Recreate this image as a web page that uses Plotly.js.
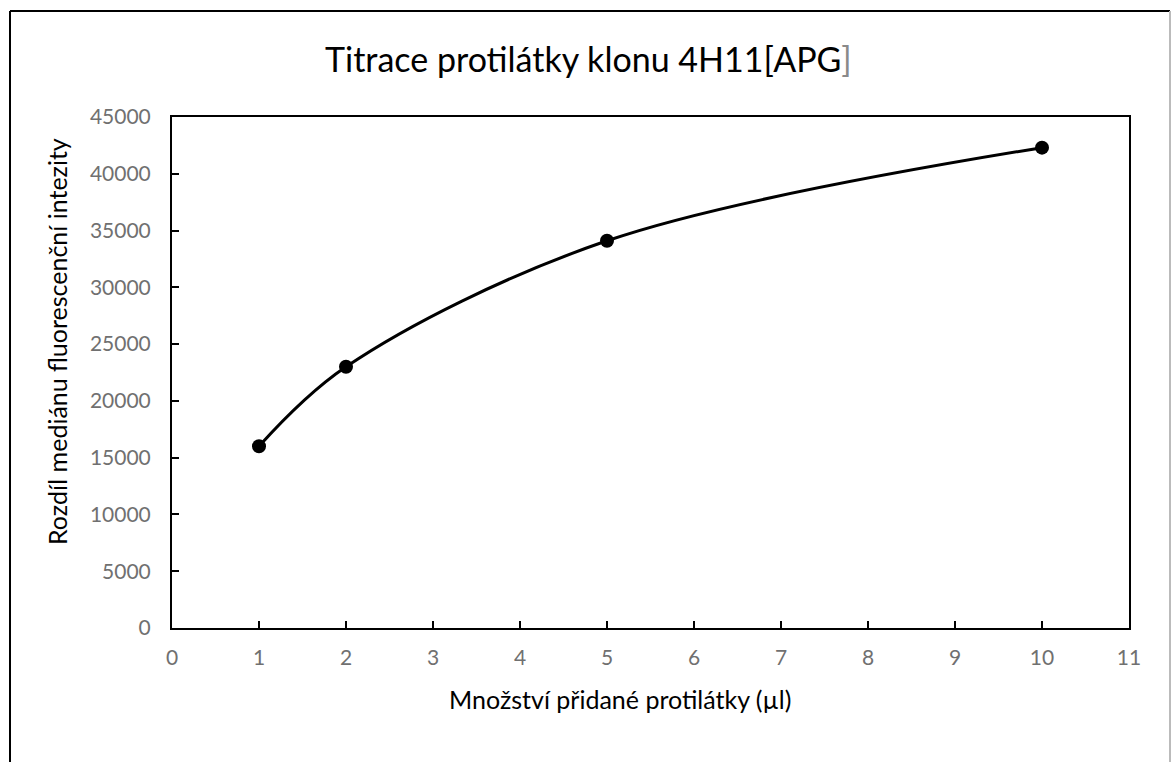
<!DOCTYPE html>
<html>
<head>
<meta charset="utf-8">
<script src="https://cdn.plot.ly/plotly-3.0.1.min.js"></script>
<style>
html,body{margin:0;padding:0;background:#fff;}
#chart{width:1172px;height:762px;}
</style>
</head>
<body>
<div id="chart"></div>
<script>
// Data
const xValues = [1, 2, 5, 10];
const yValues = [16000, 23000, 34100, 42300];
const chartTitle = 'Titrace protilátky klonu 4H11[APG<span style="color:#8a8a8a">]</span>';
const xTitle = 'Množství přidané protilátky (µl)';
const yTitle = 'Rozdíl mediánu fluorescenční intezity';

const L = 172, R = 1129, T = 117, B = 628, W = 1172, H = 762;
const px = v => (v - L) / (R - L);
const py = v => (B - v) / (B - T);

const font = 'Lato, "Open Sans", sans-serif';

const trace = {
  x: xValues,
  y: yValues,
  type: 'scatter',
  mode: 'lines+markers',
  line: {color: '#000', width: 3, shape: 'spline', smoothing: 1},
  marker: {color: '#000', size: 14},
  hoverinfo: 'x+y'
};

const layout = {
  width: W, height: H,
  margin: {l: L, r: W - R, t: T, b: H - B, pad: 0},
  paper_bgcolor: '#fff',
  plot_bgcolor: '#fff',
  showlegend: false,
  xaxis: {
    range: [0, 11],
    dtick: 1, tick0: 0,
    ticks: 'inside', ticklen: 7, tickwidth: 2, tickcolor: '#000',
    showline: true, linecolor: '#000', linewidth: 2, mirror: true,
    showgrid: false, zeroline: false,
    tickfont: {family: font, size: 21, color: '#707070'},
    ticklabelstandoff: 10,
    fixedrange: true
  },
  yaxis: {
    range: [0, 45000],
    dtick: 5000, tick0: 0,
    ticks: 'inside', ticklen: 7, tickwidth: 2, tickcolor: '#000',
    showline: true, linecolor: '#000', linewidth: 2, mirror: true,
    showgrid: false, zeroline: false,
    tickfont: {family: font, size: 21, color: '#707070'},
    ticklabelstandoff: 15,
    tickformat: 'd',
    fixedrange: true
  },
  annotations: [
    {text: chartTitle, xref: 'paper', yref: 'paper', x: px(588), y: py(59),
     xanchor: 'center', yanchor: 'middle', showarrow: false,
     font: {family: font, size: 34, color: '#000'}},
    {text: xTitle, xref: 'paper', yref: 'paper', x: px(620), y: py(699),
     xanchor: 'center', yanchor: 'middle', showarrow: false,
     font: {family: font, size: 25, color: '#000'}},
    {text: yTitle, xref: 'paper', yref: 'paper', x: px(57), y: py(342),
     xanchor: 'center', yanchor: 'middle', showarrow: false, textangle: -90,
     font: {family: font, size: 25, color: '#000'}}
  ],
  shapes: [
    {type: 'line', xref: 'paper', yref: 'paper', x0: px(10), x1: px(1170), y0: py(11), y1: py(11), line: {color: '#000', width: 2}},
    {type: 'line', xref: 'paper', yref: 'paper', x0: px(10), x1: px(10), y0: py(11), y1: py(780), line: {color: '#000', width: 2}},
    {type: 'line', xref: 'paper', yref: 'paper', x0: px(1170), x1: px(1170), y0: py(11), y1: py(780), line: {color: '#bbbbbb', width: 2}}
  ]
};

Plotly.newPlot('chart', [trace], layout, {displayModeBar: false, staticPlot: true});
</script>
</body>
</html>
